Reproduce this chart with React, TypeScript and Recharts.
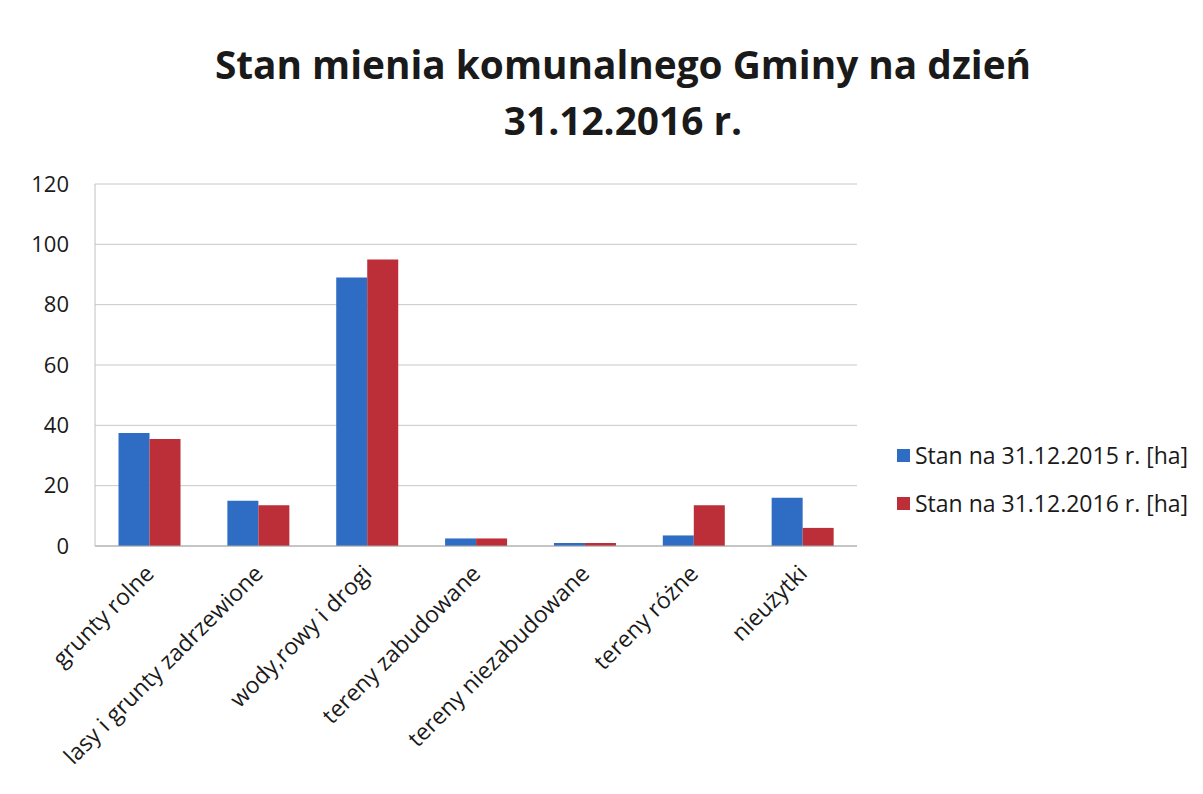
import React from 'react';
import { BarChart, Bar, XAxis, YAxis, CartesianGrid, Legend } from 'recharts';

const categories = [
  'grunty rolne',
  'lasy i grunty zadrzewione',
  'wody,rowy i drogi',
  'tereny zabudowane',
  'tereny niezabudowane',
  'tereny różne',
  'nieużytki',
];
const stan2015 = [37.5, 15, 89, 2.5, 1, 3.5, 16];
const stan2016 = [35.5, 13.5, 95, 2.5, 1, 13.5, 6];
const yTicks = [0, 20, 40, 60, 80, 100, 120];

const data = categories.map((name, i) => ({
  name,
  s2015: stan2015[i],
  s2016: stan2016[i],
}));

const FONT = '"Open Sans", sans-serif';

const CategoryTick = (props: any) => {
  const { x, y, payload } = props;
  return (
    <g transform={`translate(${x + 6},${y + 21})`}>
      <text
        textAnchor="end"
        transform="rotate(-45)"
        fontFamily={FONT}
        fontSize={23}
        fill="#1a1a1a"
      >
        {payload.value}
      </text>
    </g>
  );
};

const LegendBox = (props: any) => {
  const { payload } = props;
  return (
    <div style={{ fontFamily: FONT, fontSize: 23, color: '#1a1a1a' }}>
      {payload.map((entry: any) => (
        <div key={entry.value} style={{ display: 'flex', alignItems: 'center', height: 48 }}>
          <span
            style={{
              display: 'inline-block',
              width: 13,
              height: 13,
              background: entry.color,
              marginRight: 5,
            }}
          />
          <span>{entry.value}</span>
        </div>
      ))}
    </div>
  );
};

export default function App() {
  return (
    <div style={{ position: 'relative', width: 1187, height: 778, background: '#fff' }}>
      <div
        style={{
          position: 'absolute',
          left: 0,
          top: 28,
          width: 1230,
          textAlign: 'center',
          fontFamily: FONT,
          fontWeight: 700,
          fontSize: 38.8,
          lineHeight: '56px',
          color: '#1a1a1a',
        }}
      >
        Stan mienia komunalnego Gminy na dzień
        <br />
        31.12.2016 r.
      </div>
      <BarChart
        width={1187}
        height={778}
        data={data}
        margin={{ top: 176, right: 38, bottom: 0, left: 7 }}
        barCategoryGap="21.6%"
        barGap={0}
      >
        <CartesianGrid vertical={false} stroke="#c8c8c8" />
        <XAxis
          dataKey="name"
          interval={0}
          height={240}
          tick={<CategoryTick />}
          tickLine={false}
          axisLine={{ stroke: '#a8a8a8' }}
        />
        <YAxis
          domain={[0, 120]}
          ticks={yTicks}
          width={80}
          tickLine={false}
          axisLine={{ stroke: '#c0c0c0' }}
          tickMargin={20}
          tick={{ fontFamily: FONT, fontSize: 22, fill: '#1a1a1a' }}
        />
        <Legend
          layout="vertical"
          align="right"
          verticalAlign="top"
          content={<LegendBox />}
          wrapperStyle={{ left: 889, top: 423, width: 300 }}
        />
        <Bar dataKey="s2015" name="Stan na 31.12.2015 r. [ha]" fill="#2f6cc3" isAnimationActive={false} />
        <Bar dataKey="s2016" name="Stan na 31.12.2016 r. [ha]" fill="#bc2f38" isAnimationActive={false} />
      </BarChart>
    </div>
  );
}
